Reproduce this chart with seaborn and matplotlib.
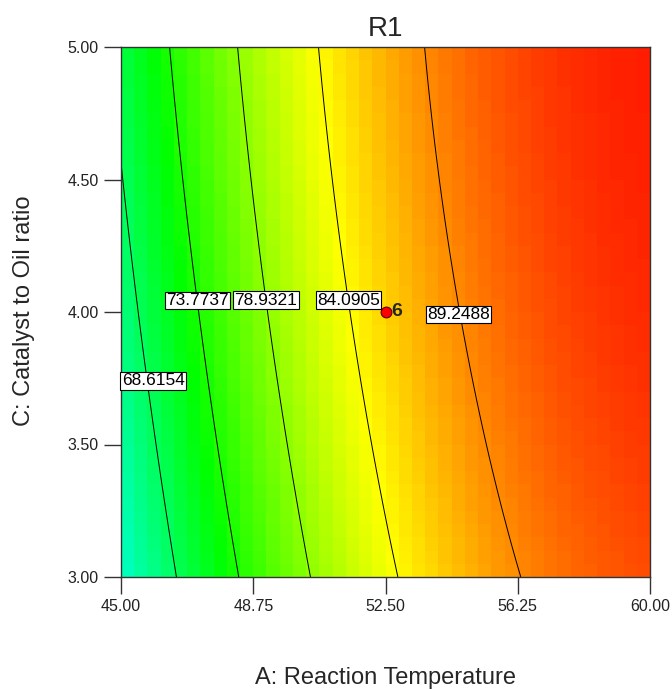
import numpy as np
import pandas as pd
import matplotlib
matplotlib.use("Agg")
import matplotlib.pyplot as plt
from matplotlib.colors import LinearSegmentedColormap
import seaborn as sns

# ---- data ----
levels = [68.6154, 73.7737, 78.9321, 84.0905, 89.2488]
level_labels = ["68.6154", "73.7737", "78.9321", "84.0905", "89.2488"]

# contour crossing points (A, C, response)
cross_A = [46.57, 48.33, 50.39, 52.86, 56.32,
           45.99, 47.72, 49.73, 52.11, 55.32,
           45.54, 47.16, 49.14, 51.49, 54.67,
           45.00,
           46.39, 48.32, 50.59, 53.59]
cross_C = [3.0, 3.0, 3.0, 3.0, 3.0,
           3.5, 3.5, 3.5, 3.5, 3.5,
           4.0, 4.0, 4.0, 4.0, 4.0,
           4.53,
           5.0, 5.0, 5.0, 5.0]
cross_Y = [68.6154, 73.7737, 78.9321, 84.0905, 89.2488,
           68.6154, 73.7737, 78.9321, 84.0905, 89.2488,
           68.6154, 73.7737, 78.9321, 84.0905, 89.2488,
           68.6154,
           73.7737, 78.9321, 84.0905, 89.2488]

design_A = [52.5]
design_C = [4.0]
design_count = ["6"]

x_ticks = [45.00, 48.75, 52.50, 56.25, 60.00]
y_ticks = [3.00, 3.50, 4.00, 4.50, 5.00]
x_range = (45.0, 60.0)
y_range = (3.0, 5.0)

# ---- fit quadratic response surface to the read points ----
def design_matrix(A, C):
    a = (np.asarray(A) - 52.5) / 7.5
    c = (np.asarray(C) - 4.0) / 1.0
    return np.column_stack([np.ones_like(a), a, c, a * c, a * a, c * c])

coef, *_ = np.linalg.lstsq(design_matrix(cross_A, cross_C), np.asarray(cross_Y), rcond=None)

def model(A, C):
    shp = np.shape(A)
    return (design_matrix(np.ravel(A), np.ravel(C)) @ coef).reshape(shp)

# ---- style ----
sns.set_style("white")
plt.rcParams["font.family"] = ["Liberation Sans", "DejaVu Sans"]

cmap = LinearSegmentedColormap.from_list(
    "de", [(0, 0, 1), (0, 1, 1), (0, 1, 0), (1, 1, 0), (1, 0, 0)])
vmin, vmax = 49.75, 95.5

fig = plt.figure(figsize=(6.72, 6.89), dpi=100)
ax = fig.add_axes([121 / 672, 112 / 689, 529 / 672, 530 / 689])

# coarse colour cells
ncell = 40
xe = np.linspace(*x_range, ncell + 1)
ye = np.linspace(*y_range, ncell + 1)
xc = (xe[:-1] + xe[1:]) / 2
yc = (ye[:-1] + ye[1:]) / 2
XC, YC = np.meshgrid(xc, yc)
ax.pcolormesh(xe, ye, model(XC, YC), cmap=cmap, vmin=vmin, vmax=vmax,
              shading="flat", zorder=0)

# contour lines
xf = np.linspace(*x_range, 300)
yf = np.linspace(*y_range, 300)
XF, YF = np.meshgrid(xf, yf)
ax.contour(XF, YF, model(XF, YF), levels=levels, colors="black",
           linewidths=0.7, zorder=2)

# contour labels
label_pos = [(45.91, 3.74), (47.17, 4.043), (49.11, 4.045), (51.45, 4.045), (54.57, 3.99)]
for txt, (px, py) in zip(level_labels, label_pos):
    ax.text(px, py, txt, ha="center", va="center", fontsize=12.5, color="black",
            zorder=4,
            bbox=dict(boxstyle="square,pad=0.07", fc="white", ec="black", lw=0.8))

# design point
dp = pd.DataFrame({"A": design_A, "C": design_C})
sns.scatterplot(data=dp, x="A", y="C", ax=ax, s=60, color="#ff0000",
                edgecolor="#600000", linewidth=0.8, zorder=5, legend=False)
for a, c, n in zip(design_A, design_C, design_count):
    ax.annotate(n, (a, c), xytext=(4.5, 0), textcoords="offset points",
                ha="left", va="center", fontsize=14, fontweight="bold", zorder=6)

ax.set_xlim(*x_range)
ax.set_ylim(*y_range)
ax.set_xticks(x_ticks)
ax.set_yticks(y_ticks)
ax.set_xticklabels([f"{v:.2f}" for v in x_ticks])
ax.set_yticklabels([f"{v:.2f}" for v in y_ticks])
ax.tick_params(axis="both", direction="out", length=12, width=1, color="#333333",
               labelsize=11.5, labelcolor="#222222", pad=4, bottom=True, left=True)
for s in ax.spines.values():
    s.set_color("#333333")
    s.set_linewidth(1)

ax.set_title("R1", fontsize=20, pad=8)
ax.set_xlabel("A: Reaction Temperature", fontsize=17)
ax.set_ylabel("C: Catalyst to Oil ratio", fontsize=17)
ax.xaxis.set_label_coords(0.5, -0.1906)
ax.xaxis.label.set_va("center")
ax.yaxis.set_label_coords(-0.1834, 0.502)
ax.yaxis.label.set_va("center")

fig.savefig("out.png", dpi=100)
